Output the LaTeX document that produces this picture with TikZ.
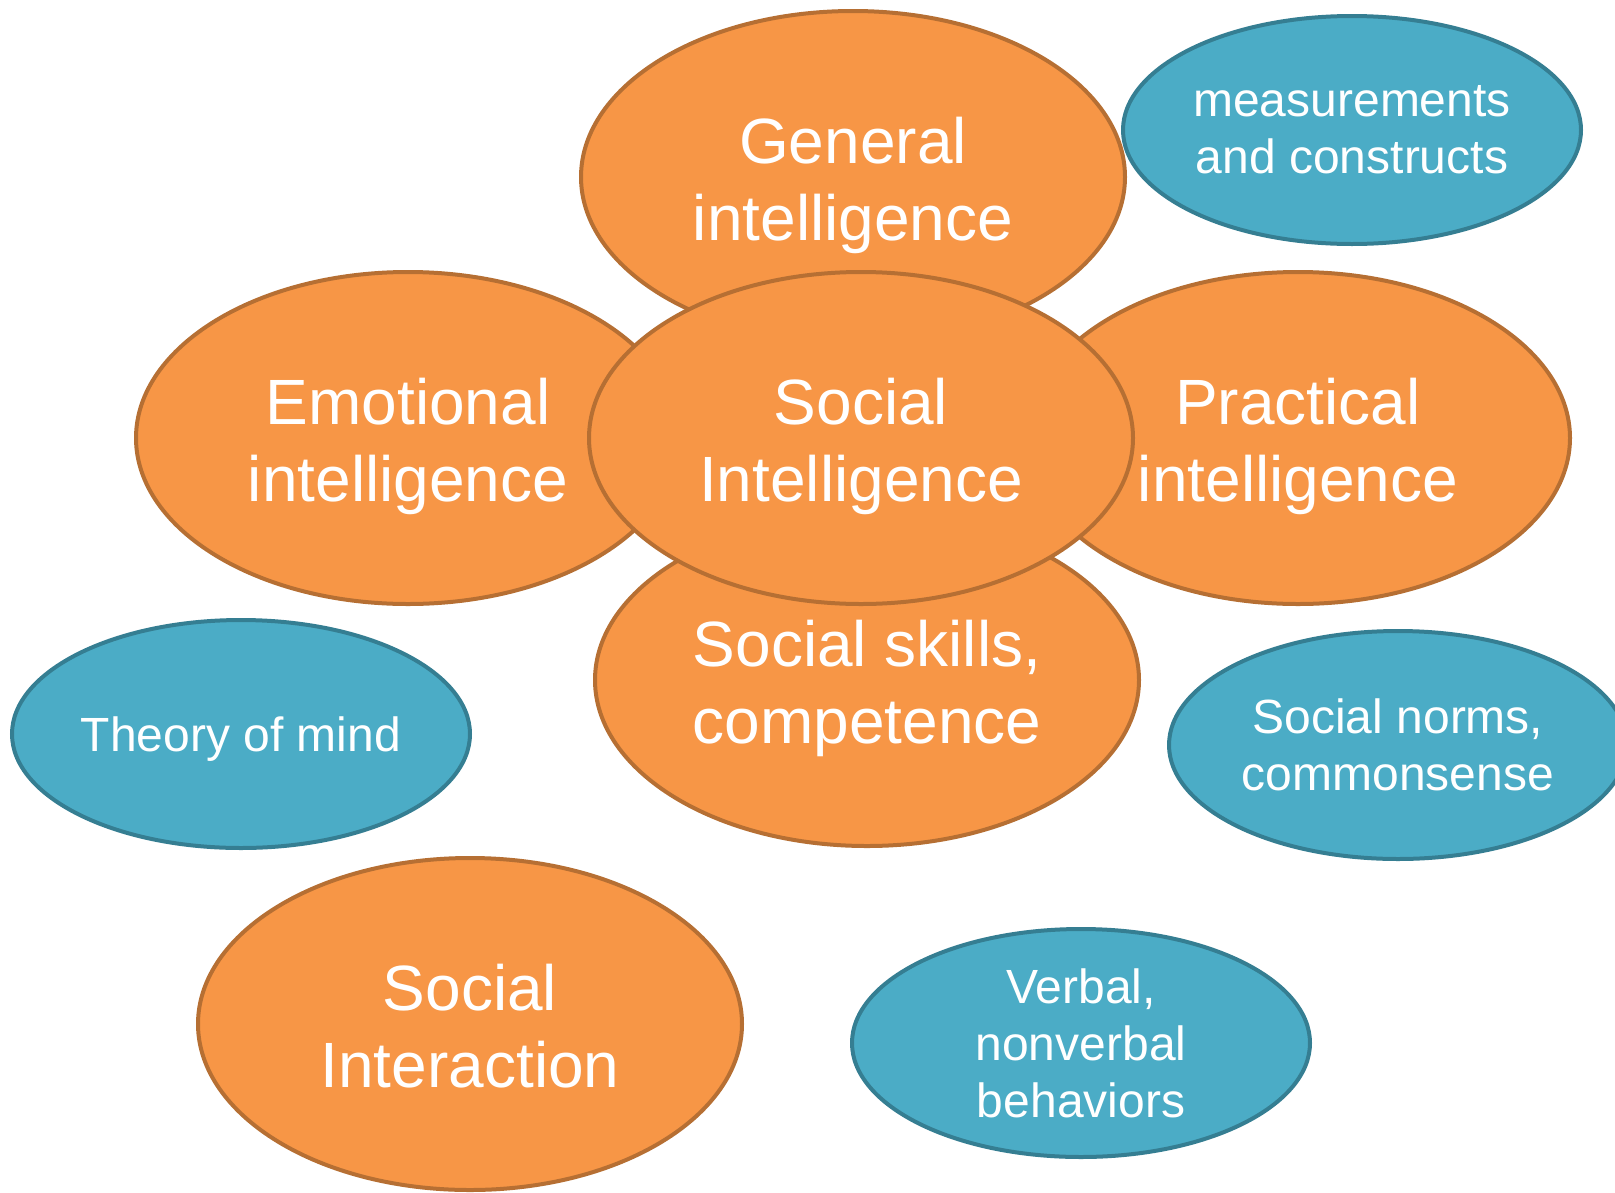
\documentclass[tikz,border=0pt]{standalone}
\usepackage{fontspec}
\setmainfont{Liberation Sans}
\usetikzlibrary{shapes.geometric}
\definecolor{orfill}{HTML}{F79646}
\definecolor{ordraw}{HTML}{B66F33}
\definecolor{blfill}{HTML}{4BACC6}
\definecolor{bldraw}{HTML}{357E92}
\tikzset{
  bigell/.style={ellipse, fill=orfill, draw=ordraw, line width=4pt, inner sep=0pt,
    minimum width=544pt, minimum height=332pt, text=white, align=center,
    text height=133pt, text depth=6pt,
    font=\fontsize{64}{77}\selectfont},
  smallell/.style={ellipse, fill=blfill, draw=bldraw, line width=4pt, inner sep=0pt,
    minimum width=458pt, minimum height=228pt, text=white, align=center,
    font=\fontsize{48}{57}\selectfont}
}
\begin{document}
\begin{tikzpicture}[x=1pt,y=-1pt]
\useasboundingbox (0,0) rectangle (1615,1192);
\clip (0,0) rectangle (1615,1192);
\node[bigell] (gen) at (853,177) {General\\intelligence};
\node[smallell] (meas) at (1352,130) {measurements\\and constructs};
\node[bigell] (emo) at (408,438) {Emotional\\intelligence};
\node[bigell] (prac) at (1298,438) {Practical\\intelligence};
\node[bigell] (skills) at (867,680) {Social skills,\\competence};
\node[bigell] (si) at (861,438) {Social\\Intelligence};
\node[smallell, text depth=0pt] (tom) at (241,734) {Theory of mind};
\node[smallell] (norms) at (1398,745) {Social norms,\\commonsense};
\node[bigell] (inter) at (470,1024) {Social\\Interaction};
\node[smallell] (verb) at (1081,1043) {Verbal,\\nonverbal\\behaviors};
\end{tikzpicture}
\end{document}
